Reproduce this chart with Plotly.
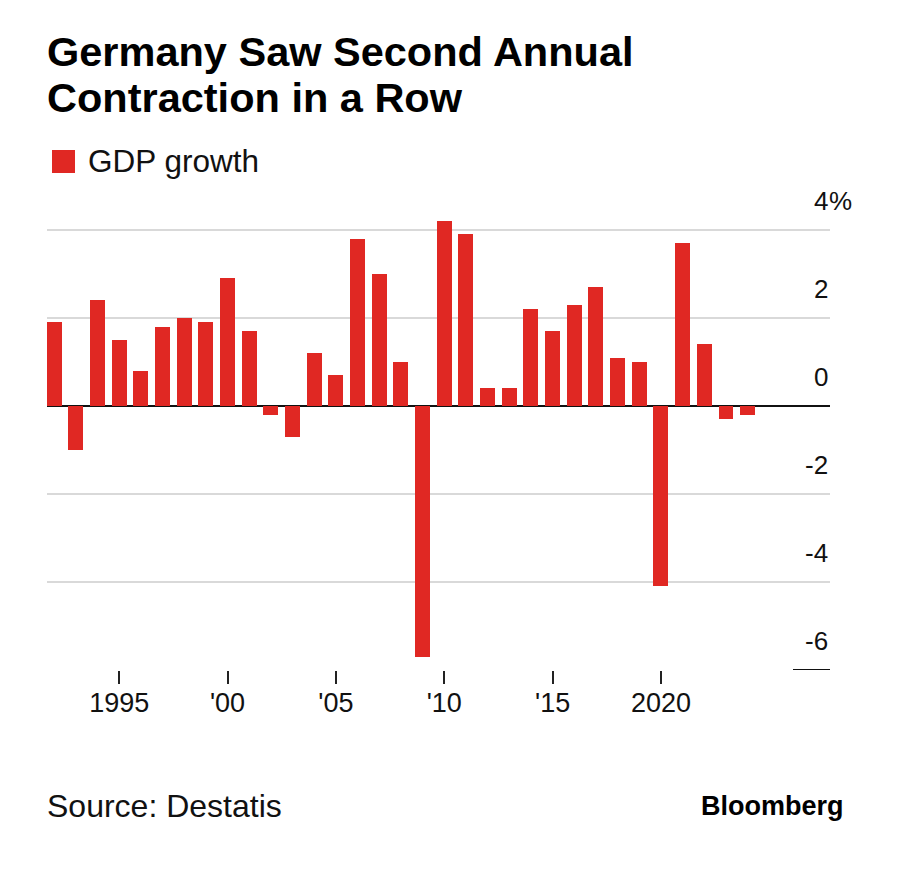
import plotly.graph_objects as go

# ---- data ----
years = list(range(1992, 2025))
gdp_growth = [1.9, -1.0, 2.4, 1.5, 0.8, 1.8, 2.0, 1.9, 2.9, 1.7,
              -0.2, -0.7, 1.2, 0.7, 3.8, 3.0, 1.0, -5.7, 4.2, 3.9,
              0.4, 0.4, 2.2, 1.7, 2.3, 2.7, 1.1, 1.0, -4.1, 3.7,
              1.4, -0.3, -0.2]
series_name = "GDP growth"
x_tick_vals = [1995, 2000, 2005, 2010, 2015, 2020]
x_tick_text = ["1995", "'00", "'05", "'10", "'15", "2020"]
y_grid_vals = [-4, -2, 2, 4]
y_label_vals = [4, 2, 0, -2, -4, -6]
y_label_text = ["4", "2", "0", "-2", "-4", "-6"]
title_lines = ["Germany Saw Second Annual", "Contraction in a Row"]
source_text = "Source: Destatis"
brand_text = "Bloomberg"

RED = "#e02823"
FONT = "Liberation Sans, Arial, sans-serif"

OFF = 8  # default page body margin
W, H = 900 - OFF, 878 - OFF
ML, MR, MT, MB = 47 - OFF, 70, 208 - OFF, 208
PH = H - MT - MB
PW = W - ML - MR


def py(p):
    """page pixel y (from top) -> paper y"""
    return (H - MB - (p - OFF)) / PH


def px(p):
    """page pixel x -> paper x"""
    return (p - OFF - ML) / PW


fig = go.Figure()
fig.add_trace(go.Bar(x=years, y=gdp_growth, name=series_name,
                     marker=dict(color=RED, line=dict(width=0)),
                     width=0.69, showlegend=False))

fig.update_layout(
    width=W, height=H,
    margin=dict(l=ML, r=MR, t=MT, b=MB),
    paper_bgcolor="white", plot_bgcolor="white",
    font=dict(family=FONT, color="#111111"),
    bargap=0,
    xaxis=dict(range=[1991.67, 2027.8], tickvals=x_tick_vals, ticktext=x_tick_text,
               ticks="outside", ticklen=13, tickwidth=2, tickcolor="#222222",
               ticklabelstandoff=-4,
               showgrid=False, showline=False, zeroline=False,
               tickfont=dict(size=27, family=FONT, color="#111111")),
    yaxis=dict(range=[-6, 4.5], tickvals=y_grid_vals, showticklabels=False,
               showgrid=True, gridcolor="#d9d9d9", gridwidth=2,
               zeroline=True, zerolinecolor="#111111", zerolinewidth=2,
               showline=False, ticks=""),
)

# short baseline mark at -6
fig.add_shape(type="line", xref="paper", yref="y", x0=px(793), x1=1.0, y0=-6, y1=-6,
              line=dict(color="#111111", width=2))

# y labels above gridlines
for v, t in zip(y_label_vals, y_label_text):
    fig.add_annotation(xref="paper", yref="y", x=1.0, y=v, text=t, showarrow=False,
                       xanchor="right", yanchor="middle", yshift=29,
                       font=dict(size=26, family=FONT, color="#111111"))
    if v == max(y_label_vals):
        fig.add_annotation(xref="paper", yref="y", x=1.0, y=v, text="%", showarrow=False,
                           xanchor="left", yanchor="middle", yshift=29, xshift=-3,
                           font=dict(size=26, family=FONT, color="#111111"))

# title
for i, line in enumerate(title_lines):
    fig.add_annotation(xref="paper", yref="paper", x=px(45), y=py(51 + 47 * i), text=f"<b>{line}</b>",
                       showarrow=False, xanchor="left", yanchor="middle",
                       font=dict(size=41.5, family=FONT, color="#000000"))

# legend
fig.add_shape(type="rect", xref="paper", yref="paper", x0=px(52), x1=px(75), y0=py(173), y1=py(150),
              fillcolor=RED, line=dict(width=0))
fig.add_annotation(xref="paper", yref="paper", x=px(86), y=py(161), text=series_name,
                   showarrow=False, xanchor="left", yanchor="middle",
                   font=dict(size=31.5, family=FONT, color="#111111"))

# footer
fig.add_annotation(xref="paper", yref="paper", x=px(45), y=py(806), text=source_text,
                   showarrow=False, xanchor="left", yanchor="middle",
                   font=dict(size=32, family=FONT, color="#111111"))
fig.add_annotation(xref="paper", yref="paper", x=px(846), y=py(806), text=f"<b>{brand_text}</b>",
                   showarrow=False, xanchor="right", yanchor="middle",
                   font=dict(size=27, family=FONT, color="#000000"))

fig.write_html("out.html")
